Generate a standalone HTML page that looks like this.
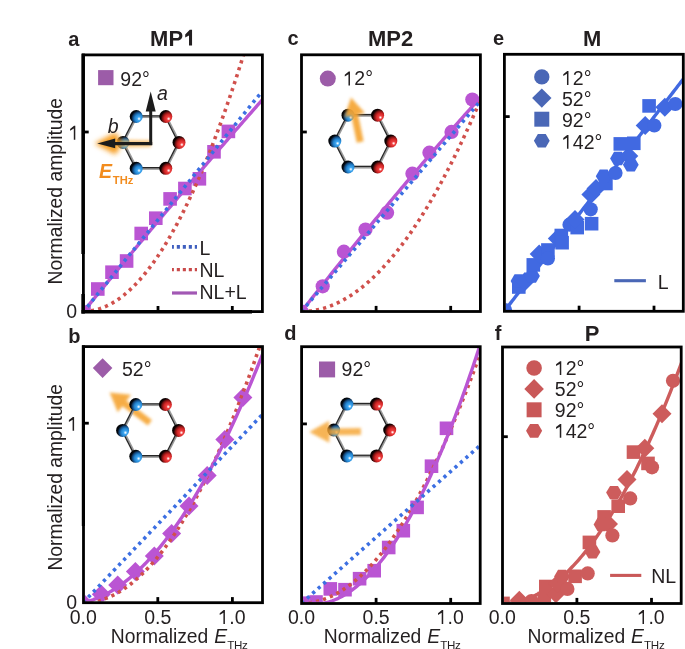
<!DOCTYPE html>
<html><head><meta charset="utf-8"><style>html,body{margin:0;padding:0;background:#fff;}svg{display:block;will-change:transform;}text{font-family:"Liberation Sans",sans-serif;}</style></head><body>
<svg width="685" height="649" viewBox="0 0 685 649" font-family="Liberation Sans, sans-serif">
<defs>
<radialGradient id="gB" cx="0.7" cy="0.62" r="0.8" fx="0.72" fy="0.68"><stop offset="0" stop-color="#ffffff"/><stop offset="0.07" stop-color="#c4e6ff"/><stop offset="0.17" stop-color="#40a8f2"/><stop offset="0.4" stop-color="#2284d0"/><stop offset="0.58" stop-color="#14497e"/><stop offset="0.74" stop-color="#02070e"/><stop offset="1" stop-color="#000"/></radialGradient>
<radialGradient id="gR" cx="0.7" cy="0.62" r="0.8" fx="0.72" fy="0.68"><stop offset="0" stop-color="#ffffff"/><stop offset="0.07" stop-color="#ffc4c4"/><stop offset="0.17" stop-color="#ee4040"/><stop offset="0.4" stop-color="#d02424"/><stop offset="0.58" stop-color="#7a1212"/><stop offset="0.74" stop-color="#0e0000"/><stop offset="1" stop-color="#000"/></radialGradient>
<filter id="blur2" x="-50%" y="-50%" width="200%" height="200%"><feGaussianBlur stdDeviation="1.6"/></filter>
<filter id="blur3" x="-50%" y="-50%" width="200%" height="200%"><feGaussianBlur stdDeviation="2.6"/></filter>
<clipPath id="clipa"><rect x="84.70" y="56.20" width="176.40" height="254.10"/></clipPath>
<clipPath id="clipb"><rect x="84.80" y="347.90" width="176.40" height="253.50"/></clipPath>
<clipPath id="clipc"><rect x="302.80" y="56.10" width="176.30" height="254.10"/></clipPath>
<clipPath id="clipd"><rect x="302.90" y="348.00" width="176.00" height="254.20"/></clipPath>
<clipPath id="clipe"><rect x="505.70" y="55.60" width="176.30" height="254.40"/></clipPath>
<clipPath id="clipf"><rect x="503.80" y="348.30" width="176.10" height="253.90"/></clipPath>
</defs>
<rect width="685" height="649" fill="#fff"/>
<g clip-path="url(#clipa)">
<rect x="77.20" y="305.20" width="13.60" height="13.60" fill="#ba55d3"/>
<rect x="91.00" y="282.20" width="13.60" height="13.60" fill="#ba55d3"/>
<rect x="105.20" y="265.40" width="13.60" height="13.60" fill="#ba55d3"/>
<rect x="119.80" y="254.20" width="13.60" height="13.60" fill="#ba55d3"/>
<rect x="134.40" y="226.70" width="13.60" height="13.60" fill="#ba55d3"/>
<rect x="149.00" y="211.40" width="13.60" height="13.60" fill="#ba55d3"/>
<rect x="163.30" y="192.10" width="13.60" height="13.60" fill="#ba55d3"/>
<rect x="178.10" y="181.70" width="13.60" height="13.60" fill="#ba55d3"/>
<rect x="192.60" y="172.00" width="13.60" height="13.60" fill="#ba55d3"/>
<rect x="207.20" y="145.00" width="13.60" height="13.60" fill="#ba55d3"/>
<rect x="221.60" y="124.60" width="13.60" height="13.60" fill="#ba55d3"/>
<path d="M83.70,311.30 L85.31,311.27 L86.92,311.20 L88.53,311.07 L90.14,310.88 L91.75,310.65 L93.36,310.36 L94.97,310.03 L96.58,309.64 L98.19,309.19 L99.80,308.70 L101.41,308.15 L103.02,307.55 L104.63,306.90 L106.24,306.20 L107.85,305.45 L109.46,304.64 L111.07,303.78 L112.68,302.87 L114.29,301.91 L115.90,300.90 L117.51,299.83 L119.12,298.71 L120.73,297.54 L122.34,296.32 L123.95,295.04 L125.56,293.72 L127.17,292.34 L128.78,290.91 L130.39,289.43 L132.00,287.89 L133.60,286.31 L135.21,284.67 L136.82,282.98 L138.43,281.23 L140.04,279.44 L141.65,277.59 L143.26,275.69 L144.87,273.74 L146.48,271.74 L148.09,269.69 L149.70,267.58 L151.31,265.42 L152.92,263.21 L154.53,260.95 L156.14,258.63 L157.75,256.27 L159.36,253.85 L160.97,251.38 L162.58,248.85 L164.19,246.28 L165.80,243.65 L167.41,240.97 L169.02,238.24 L170.63,235.46 L172.24,232.62 L173.85,229.74 L175.46,226.80 L177.07,223.81 L178.68,220.76 L180.29,217.67 L181.90,214.52 L183.51,211.32 L185.12,208.07 L186.73,204.77 L188.34,201.41 L189.95,198.00 L191.56,194.55 L193.17,191.03 L194.78,187.47 L196.39,183.86 L198.00,180.19 L199.61,176.47 L201.22,172.70 L202.83,168.87 L204.44,165.00 L206.05,161.07 L207.66,157.09 L209.27,153.06 L210.88,148.98 L212.49,144.84 L214.10,140.66 L215.71,136.42 L217.32,132.12 L218.93,127.78 L220.54,123.39 L222.15,118.94 L223.76,114.44 L225.37,109.89 L226.98,105.28 L228.58,100.63 L230.19,95.92 L231.80,91.16 L233.41,86.35 L235.02,81.48 L236.63,76.57 L238.24,71.60 L239.85,66.58 L241.46,61.51 L243.07,56.39 L244.68,51.21 L246.29,45.98 L247.90,40.70 L249.51,35.37 L251.12,29.99 L252.73,24.55 L254.34,19.06 L255.95,13.52 L257.56,7.93 L259.17,2.29 L260.78,-3.41 L262.39,-9.16 L264.00,-14.96 L265.61,-20.81 L267.22,-26.71 L268.83,-32.67 L270.44,-38.68 L272.05,-44.74 L273.66,-50.85 L275.27,-57.01 L276.88,-63.23" fill="none" stroke="#d0504c" stroke-width="3.6" stroke-dasharray="3.2 4.1" stroke-dashoffset="0"/>
<path d="M83.70,311.30 L85.31,309.32 L86.92,307.34 L88.53,305.36 L90.14,303.39 L91.75,301.41 L93.36,299.44 L94.97,297.46 L96.58,295.49 L98.19,293.52 L99.80,291.55 L101.41,289.59 L103.02,287.62 L104.63,285.66 L106.24,283.69 L107.85,281.73 L109.46,279.77 L111.07,277.81 L112.68,275.86 L114.29,273.90 L115.90,271.94 L117.51,269.99 L119.12,268.04 L120.73,266.09 L122.34,264.14 L123.95,262.19 L125.56,260.24 L127.17,258.30 L128.78,256.35 L130.39,254.41 L132.00,252.47 L133.60,250.53 L135.21,248.59 L136.82,246.65 L138.43,244.72 L140.04,242.78 L141.65,240.85 L143.26,238.92 L144.87,236.98 L146.48,235.05 L148.09,233.13 L149.70,231.20 L151.31,229.27 L152.92,227.35 L154.53,225.43 L156.14,223.51 L157.75,221.59 L159.36,219.67 L160.97,217.75 L162.58,215.83 L164.19,213.92 L165.80,212.01 L167.41,210.10 L169.02,208.18 L170.63,206.28 L172.24,204.37 L173.85,202.46 L175.46,200.56 L177.07,198.65 L178.68,196.75 L180.29,194.85 L181.90,192.95 L183.51,191.05 L185.12,189.15 L186.73,187.26 L188.34,185.36 L189.95,183.47 L191.56,181.58 L193.17,179.69 L194.78,177.80 L196.39,175.91 L198.00,174.02 L199.61,172.14 L201.22,170.26 L202.83,168.37 L204.44,166.49 L206.05,164.61 L207.66,162.74 L209.27,160.86 L210.88,158.98 L212.49,157.11 L214.10,155.24 L215.71,153.36 L217.32,151.49 L218.93,149.63 L220.54,147.76 L222.15,145.89 L223.76,144.03 L225.37,142.16 L226.98,140.30 L228.58,138.44 L230.19,136.58 L231.80,134.72 L233.41,132.87 L235.02,131.01 L236.63,129.16 L238.24,127.30 L239.85,125.45 L241.46,123.60 L243.07,121.75 L244.68,119.91 L246.29,118.06 L247.90,116.22 L249.51,114.37 L251.12,112.53 L252.73,110.69 L254.34,108.85 L255.95,107.01 L257.56,105.18 L259.17,103.34 L260.78,101.51 L262.39,99.68 L264.00,97.85 L265.61,96.02 L267.22,94.19 L268.83,92.36 L270.44,90.53 L272.05,88.71 L273.66,86.89 L275.27,85.07 L276.88,83.24" fill="none" stroke="#ba55d3" stroke-width="3.4" stroke-linejoin="round"/>
<path d="M83.70,311.30 L85.31,309.32 L86.92,307.33 L88.53,305.35 L90.14,303.36 L91.75,301.38 L93.36,299.39 L94.97,297.41 L96.58,295.43 L98.19,293.44 L99.80,291.46 L101.41,289.47 L103.02,287.49 L104.63,285.51 L106.24,283.52 L107.85,281.54 L109.46,279.55 L111.07,277.57 L112.68,275.58 L114.29,273.60 L115.90,271.62 L117.51,269.63 L119.12,267.65 L120.73,265.66 L122.34,263.68 L123.95,261.70 L125.56,259.71 L127.17,257.73 L128.78,255.74 L130.39,253.76 L132.00,251.77 L133.60,249.79 L135.21,247.81 L136.82,245.82 L138.43,243.84 L140.04,241.85 L141.65,239.87 L143.26,237.89 L144.87,235.90 L146.48,233.92 L148.09,231.93 L149.70,229.95 L151.31,227.96 L152.92,225.98 L154.53,224.00 L156.14,222.01 L157.75,220.03 L159.36,218.04 L160.97,216.06 L162.58,214.08 L164.19,212.09 L165.80,210.11 L167.41,208.12 L169.02,206.14 L170.63,204.15 L172.24,202.17 L173.85,200.19 L175.46,198.20 L177.07,196.22 L178.68,194.23 L180.29,192.25 L181.90,190.27 L183.51,188.28 L185.12,186.30 L186.73,184.31 L188.34,182.33 L189.95,180.34 L191.56,178.36 L193.17,176.38 L194.78,174.39 L196.39,172.41 L198.00,170.42 L199.61,168.44 L201.22,166.45 L202.83,164.47 L204.44,162.49 L206.05,160.50 L207.66,158.52 L209.27,156.53 L210.88,154.55 L212.49,152.57 L214.10,150.58 L215.71,148.60 L217.32,146.61 L218.93,144.63 L220.54,142.64 L222.15,140.66 L223.76,138.68 L225.37,136.69 L226.98,134.71 L228.58,132.72 L230.19,130.74 L231.80,128.76 L233.41,126.77 L235.02,124.79 L236.63,122.80 L238.24,120.82 L239.85,118.83 L241.46,116.85 L243.07,114.87 L244.68,112.88 L246.29,110.90 L247.90,108.91 L249.51,106.93 L251.12,104.95 L252.73,102.96 L254.34,100.98 L255.95,98.99 L257.56,97.01 L259.17,95.02 L260.78,93.04 L262.39,91.06 L264.00,89.07 L265.61,87.09 L267.22,85.10 L268.83,83.12 L270.44,81.14 L272.05,79.15 L273.66,77.17 L275.27,75.18 L276.88,73.20" fill="none" stroke="#3c6fe2" stroke-width="3.6" stroke-dasharray="3.2 4.1" stroke-dashoffset="1.45"/>
</g>
<g clip-path="url(#clipb)">
<path d="M74.50,603.50 L84.00,594.00 L93.50,603.50 L84.00,613.00Z" fill="#ba55d3"/>
<path d="M91.80,594.30 L101.30,584.80 L110.80,594.30 L101.30,603.80Z" fill="#ba55d3"/>
<path d="M108.20,585.00 L117.70,575.50 L127.20,585.00 L117.70,594.50Z" fill="#ba55d3"/>
<path d="M125.90,571.50 L135.40,562.00 L144.90,571.50 L135.40,581.00Z" fill="#ba55d3"/>
<path d="M144.80,556.10 L154.30,546.60 L163.80,556.10 L154.30,565.60Z" fill="#ba55d3"/>
<path d="M162.10,533.60 L171.60,524.10 L181.10,533.60 L171.60,543.10Z" fill="#ba55d3"/>
<path d="M179.50,506.00 L189.00,496.50 L198.50,506.00 L189.00,515.50Z" fill="#ba55d3"/>
<path d="M197.70,475.40 L207.20,465.90 L216.70,475.40 L207.20,484.90Z" fill="#ba55d3"/>
<path d="M215.30,439.50 L224.80,430.00 L234.30,439.50 L224.80,449.00Z" fill="#ba55d3"/>
<path d="M233.40,397.60 L242.90,388.10 L252.40,397.60 L242.90,407.10Z" fill="#ba55d3"/>
<path d="M83.20,602.60 L84.82,602.58 L86.43,602.51 L88.05,602.41 L89.67,602.26 L91.28,602.06 L92.90,601.83 L94.51,601.55 L96.13,601.23 L97.75,600.86 L99.36,600.45 L100.98,600.00 L102.60,599.51 L104.21,598.97 L105.83,598.39 L107.44,597.77 L109.06,597.10 L110.68,596.39 L112.29,595.64 L113.91,594.85 L115.53,594.01 L117.14,593.13 L118.76,592.21 L120.38,591.24 L121.99,590.23 L123.61,589.18 L125.22,588.08 L126.84,586.94 L128.46,585.76 L130.07,584.54 L131.69,583.27 L133.31,581.96 L134.92,580.61 L136.54,579.21 L138.16,577.77 L139.77,576.29 L141.39,574.77 L143.00,573.20 L144.62,571.59 L146.24,569.94 L147.85,568.24 L149.47,566.50 L151.09,564.72 L152.70,562.89 L154.32,561.02 L155.94,559.11 L157.55,557.16 L159.17,555.16 L160.78,553.12 L162.40,551.04 L164.02,548.91 L165.63,546.74 L167.25,544.53 L168.87,542.27 L170.48,539.98 L172.10,537.64 L173.71,535.25 L175.33,532.83 L176.95,530.36 L178.56,527.84 L180.18,525.29 L181.80,522.69 L183.41,520.05 L185.03,517.36 L186.65,514.64 L188.26,511.87 L189.88,509.05 L191.49,506.20 L193.11,503.30 L194.73,500.35 L196.34,497.37 L197.96,494.34 L199.58,491.27 L201.19,488.16 L202.81,485.00 L204.43,481.80 L206.04,478.56 L207.66,475.27 L209.27,471.94 L210.89,468.57 L212.51,465.16 L214.12,461.70 L215.74,458.20 L217.36,454.65 L218.97,451.07 L220.59,447.44 L222.20,443.77 L223.82,440.05 L225.44,436.29 L227.05,432.49 L228.67,428.65 L230.29,424.76 L231.90,420.83 L233.52,416.86 L235.14,412.84 L236.75,408.78 L238.37,404.68 L239.98,400.54 L241.60,396.35 L243.22,392.12 L244.83,387.84 L246.45,383.53 L248.07,379.17 L249.68,374.76 L251.30,370.32 L252.91,365.83 L254.53,361.30 L256.15,356.72 L257.76,352.11 L259.38,347.45 L261.00,342.74 L262.61,338.00 L264.23,333.21 L265.85,328.38 L267.46,323.50 L269.08,318.58 L270.69,313.62 L272.31,308.62 L273.93,303.57 L275.54,298.48 L277.16,293.35" fill="none" stroke="#d0504c" stroke-width="3.6" stroke-dasharray="3.2 4.1" stroke-dashoffset="0"/>
<path d="M83.20,602.60 L84.82,602.21 L86.43,601.79 L88.05,601.34 L89.67,600.85 L91.28,600.33 L92.90,599.78 L94.51,599.19 L96.13,598.57 L97.75,597.91 L99.36,597.22 L100.98,596.50 L102.60,595.74 L104.21,594.95 L105.83,594.13 L107.44,593.27 L109.06,592.38 L110.68,591.45 L112.29,590.50 L113.91,589.50 L115.53,588.48 L117.14,587.42 L118.76,586.32 L120.38,585.20 L121.99,584.04 L123.61,582.84 L125.22,581.61 L126.84,580.35 L128.46,579.06 L130.07,577.73 L131.69,576.36 L133.31,574.97 L134.92,573.54 L136.54,572.07 L138.16,570.57 L139.77,569.04 L141.39,567.48 L143.00,565.88 L144.62,564.25 L146.24,562.58 L147.85,560.88 L149.47,559.15 L151.09,557.38 L152.70,555.58 L154.32,553.74 L155.94,551.87 L157.55,549.97 L159.17,548.04 L160.78,546.07 L162.40,544.06 L164.02,542.03 L165.63,539.96 L167.25,537.85 L168.87,535.72 L170.48,533.54 L172.10,531.34 L173.71,529.10 L175.33,526.83 L176.95,524.52 L178.56,522.18 L180.18,519.81 L181.80,517.40 L183.41,514.96 L185.03,512.48 L186.65,509.98 L188.26,507.43 L189.88,504.86 L191.49,502.25 L193.11,499.60 L194.73,496.93 L196.34,494.22 L197.96,491.47 L199.58,488.70 L201.19,485.88 L202.81,483.04 L204.43,480.16 L206.04,477.25 L207.66,474.30 L209.27,471.32 L210.89,468.31 L212.51,465.26 L214.12,462.18 L215.74,459.06 L217.36,455.91 L218.97,452.73 L220.59,449.52 L222.20,446.27 L223.82,442.98 L225.44,439.67 L227.05,436.32 L228.67,432.93 L230.29,429.51 L231.90,426.06 L233.52,422.58 L235.14,419.06 L236.75,415.51 L238.37,411.92 L239.98,408.30 L241.60,404.65 L243.22,400.96 L244.83,397.24 L246.45,393.48 L248.07,389.69 L249.68,385.87 L251.30,382.02 L252.91,378.13 L254.53,374.20 L256.15,370.25 L257.76,366.25 L259.38,362.23 L261.00,358.17 L262.61,354.08 L264.23,349.96 L265.85,345.80 L267.46,341.60 L269.08,337.38 L270.69,333.12 L272.31,328.82 L273.93,324.50 L275.54,320.13 L277.16,315.74" fill="none" stroke="#ba55d3" stroke-width="3.4" stroke-linejoin="round"/>
<path d="M83.20,602.60 L84.82,600.90 L86.43,599.21 L88.05,597.51 L89.67,595.81 L91.28,594.12 L92.90,592.42 L94.51,590.72 L96.13,589.03 L97.75,587.33 L99.36,585.63 L100.98,583.94 L102.60,582.24 L104.21,580.54 L105.83,578.85 L107.44,577.15 L109.06,575.45 L110.68,573.76 L112.29,572.06 L113.91,570.36 L115.53,568.67 L117.14,566.97 L118.76,565.27 L120.38,563.58 L121.99,561.88 L123.61,560.18 L125.22,558.49 L126.84,556.79 L128.46,555.09 L130.07,553.40 L131.69,551.70 L133.31,550.00 L134.92,548.31 L136.54,546.61 L138.16,544.91 L139.77,543.22 L141.39,541.52 L143.00,539.82 L144.62,538.13 L146.24,536.43 L147.85,534.73 L149.47,533.04 L151.09,531.34 L152.70,529.64 L154.32,527.95 L155.94,526.25 L157.55,524.55 L159.17,522.86 L160.78,521.16 L162.40,519.46 L164.02,517.77 L165.63,516.07 L167.25,514.37 L168.87,512.68 L170.48,510.98 L172.10,509.28 L173.71,507.59 L175.33,505.89 L176.95,504.19 L178.56,502.50 L180.18,500.80 L181.80,499.10 L183.41,497.41 L185.03,495.71 L186.65,494.01 L188.26,492.32 L189.88,490.62 L191.49,488.92 L193.11,487.23 L194.73,485.53 L196.34,483.83 L197.96,482.14 L199.58,480.44 L201.19,478.74 L202.81,477.05 L204.43,475.35 L206.04,473.65 L207.66,471.96 L209.27,470.26 L210.89,468.56 L212.51,466.87 L214.12,465.17 L215.74,463.47 L217.36,461.78 L218.97,460.08 L220.59,458.38 L222.20,456.69 L223.82,454.99 L225.44,453.29 L227.05,451.60 L228.67,449.90 L230.29,448.20 L231.90,446.51 L233.52,444.81 L235.14,443.11 L236.75,441.42 L238.37,439.72 L239.98,438.02 L241.60,436.33 L243.22,434.63 L244.83,432.93 L246.45,431.24 L248.07,429.54 L249.68,427.84 L251.30,426.15 L252.91,424.45 L254.53,422.75 L256.15,421.06 L257.76,419.36 L259.38,417.66 L261.00,415.97 L262.61,414.27 L264.23,412.57 L265.85,410.88 L267.46,409.18 L269.08,407.48 L270.69,405.79 L272.31,404.09 L273.93,402.39 L275.54,400.70 L277.16,399.00" fill="none" stroke="#3c6fe2" stroke-width="3.6" stroke-dasharray="3.2 4.1" stroke-dashoffset="0"/>
</g>
<g clip-path="url(#clipc)">
<circle cx="301.50" cy="311.50" r="7.10" fill="#ba55d3"/>
<circle cx="322.70" cy="286.30" r="7.10" fill="#ba55d3"/>
<circle cx="343.90" cy="251.70" r="7.10" fill="#ba55d3"/>
<circle cx="365.50" cy="229.50" r="7.10" fill="#ba55d3"/>
<circle cx="387.10" cy="212.70" r="7.10" fill="#ba55d3"/>
<circle cx="412.40" cy="173.70" r="7.10" fill="#ba55d3"/>
<circle cx="429.40" cy="152.70" r="7.10" fill="#ba55d3"/>
<circle cx="451.50" cy="131.90" r="7.10" fill="#ba55d3"/>
<circle cx="472.30" cy="99.50" r="7.10" fill="#ba55d3"/>
<path d="M301.50,311.50 L303.12,311.48 L304.73,311.43 L306.35,311.34 L307.97,311.22 L309.58,311.07 L311.20,310.88 L312.81,310.65 L314.43,310.39 L316.05,310.10 L317.66,309.77 L319.28,309.41 L320.90,309.01 L322.51,308.58 L324.13,308.11 L325.75,307.61 L327.36,307.08 L328.98,306.51 L330.59,305.90 L332.21,305.26 L333.83,304.59 L335.44,303.88 L337.06,303.14 L338.68,302.36 L340.29,301.55 L341.91,300.70 L343.52,299.82 L345.14,298.91 L346.76,297.96 L348.37,296.97 L349.99,295.95 L351.61,294.90 L353.22,293.81 L354.84,292.69 L356.46,291.53 L358.07,290.34 L359.69,289.11 L361.30,287.85 L362.92,286.56 L364.54,285.23 L366.15,283.86 L367.77,282.46 L369.39,281.03 L371.00,279.56 L372.62,278.06 L374.24,276.52 L375.85,274.95 L377.47,273.34 L379.08,271.70 L380.70,270.02 L382.32,268.31 L383.93,266.57 L385.55,264.79 L387.17,262.98 L388.78,261.13 L390.40,259.24 L392.01,257.33 L393.63,255.38 L395.25,253.39 L396.86,251.37 L398.48,249.31 L400.10,247.22 L401.71,245.10 L403.33,242.94 L404.95,240.74 L406.56,238.52 L408.18,236.25 L409.79,233.96 L411.41,231.62 L413.03,229.26 L414.64,226.86 L416.26,224.42 L417.88,221.95 L419.49,219.44 L421.11,216.91 L422.73,214.33 L424.34,211.72 L425.96,209.08 L427.57,206.40 L429.19,203.69 L430.81,200.94 L432.42,198.16 L434.04,195.35 L435.66,192.50 L437.27,189.61 L438.89,186.69 L440.50,183.74 L442.12,180.75 L443.74,177.73 L445.35,174.67 L446.97,171.58 L448.59,168.45 L450.20,165.29 L451.82,162.09 L453.44,158.86 L455.05,155.60 L456.67,152.30 L458.28,148.97 L459.90,145.60 L461.52,142.19 L463.13,138.76 L464.75,135.28 L466.37,131.78 L467.98,128.24 L469.60,124.66 L471.21,121.05 L472.83,117.41 L474.45,113.73 L476.06,110.01 L477.68,106.26 L479.30,102.48 L480.91,98.66 L482.53,94.81 L484.15,90.92 L485.76,87.00 L487.38,83.05 L488.99,79.06 L490.61,75.03 L492.23,70.97 L493.84,66.88 L495.46,62.75" fill="none" stroke="#d0504c" stroke-width="3.6" stroke-dasharray="3.2 4.1" stroke-dashoffset="0"/>
<path d="M301.50,311.50 L303.12,309.43 L304.73,307.37 L306.35,305.31 L307.97,303.25 L309.58,301.19 L311.20,299.14 L312.81,297.09 L314.43,295.04 L316.05,292.99 L317.66,290.95 L319.28,288.91 L320.90,286.87 L322.51,284.83 L324.13,282.80 L325.75,280.76 L327.36,278.73 L328.98,276.71 L330.59,274.68 L332.21,272.66 L333.83,270.64 L335.44,268.62 L337.06,266.61 L338.68,264.59 L340.29,262.58 L341.91,260.57 L343.52,258.57 L345.14,256.56 L346.76,254.56 L348.37,252.56 L349.99,250.57 L351.61,248.57 L353.22,246.58 L354.84,244.59 L356.46,242.61 L358.07,240.62 L359.69,238.64 L361.30,236.66 L362.92,234.68 L364.54,232.71 L366.15,230.74 L367.77,228.77 L369.39,226.80 L371.00,224.84 L372.62,222.87 L374.24,220.91 L375.85,218.95 L377.47,217.00 L379.08,215.05 L380.70,213.10 L382.32,211.15 L383.93,209.20 L385.55,207.26 L387.17,205.32 L388.78,203.38 L390.40,201.44 L392.01,199.51 L393.63,197.58 L395.25,195.65 L396.86,193.72 L398.48,191.80 L400.10,189.88 L401.71,187.96 L403.33,186.04 L404.95,184.12 L406.56,182.21 L408.18,180.30 L409.79,178.40 L411.41,176.49 L413.03,174.59 L414.64,172.69 L416.26,170.79 L417.88,168.89 L419.49,167.00 L421.11,165.11 L422.73,163.22 L424.34,161.34 L425.96,159.45 L427.57,157.57 L429.19,155.69 L430.81,153.82 L432.42,151.94 L434.04,150.07 L435.66,148.20 L437.27,146.34 L438.89,144.47 L440.50,142.61 L442.12,140.75 L443.74,138.89 L445.35,137.04 L446.97,135.19 L448.59,133.34 L450.20,131.49 L451.82,129.65 L453.44,127.80 L455.05,125.96 L456.67,124.13 L458.28,122.29 L459.90,120.46 L461.52,118.63 L463.13,116.80 L464.75,114.97 L466.37,113.15 L467.98,111.33 L469.60,109.51 L471.21,107.69 L472.83,105.88 L474.45,104.07 L476.06,102.26 L477.68,100.45 L479.30,98.65 L480.91,96.85 L482.53,95.05 L484.15,93.25 L485.76,91.46 L487.38,89.66 L488.99,87.88 L490.61,86.09 L492.23,84.30 L493.84,82.52 L495.46,80.74" fill="none" stroke="#ba55d3" stroke-width="3.4" stroke-linejoin="round"/>
<path d="M301.50,311.50 L303.12,309.60 L304.73,307.70 L306.35,305.79 L307.97,303.89 L309.58,301.99 L311.20,300.09 L312.81,298.19 L314.43,296.29 L316.05,294.38 L317.66,292.48 L319.28,290.58 L320.90,288.68 L322.51,286.78 L324.13,284.87 L325.75,282.97 L327.36,281.07 L328.98,279.17 L330.59,277.27 L332.21,275.37 L333.83,273.46 L335.44,271.56 L337.06,269.66 L338.68,267.76 L340.29,265.86 L341.91,263.95 L343.52,262.05 L345.14,260.15 L346.76,258.25 L348.37,256.35 L349.99,254.45 L351.61,252.54 L353.22,250.64 L354.84,248.74 L356.46,246.84 L358.07,244.94 L359.69,243.04 L361.30,241.13 L362.92,239.23 L364.54,237.33 L366.15,235.43 L367.77,233.53 L369.39,231.62 L371.00,229.72 L372.62,227.82 L374.24,225.92 L375.85,224.02 L377.47,222.12 L379.08,220.21 L380.70,218.31 L382.32,216.41 L383.93,214.51 L385.55,212.61 L387.17,210.70 L388.78,208.80 L390.40,206.90 L392.01,205.00 L393.63,203.10 L395.25,201.20 L396.86,199.29 L398.48,197.39 L400.10,195.49 L401.71,193.59 L403.33,191.69 L404.95,189.78 L406.56,187.88 L408.18,185.98 L409.79,184.08 L411.41,182.18 L413.03,180.28 L414.64,178.37 L416.26,176.47 L417.88,174.57 L419.49,172.67 L421.11,170.77 L422.73,168.86 L424.34,166.96 L425.96,165.06 L427.57,163.16 L429.19,161.26 L430.81,159.36 L432.42,157.45 L434.04,155.55 L435.66,153.65 L437.27,151.75 L438.89,149.85 L440.50,147.94 L442.12,146.04 L443.74,144.14 L445.35,142.24 L446.97,140.34 L448.59,138.44 L450.20,136.53 L451.82,134.63 L453.44,132.73 L455.05,130.83 L456.67,128.93 L458.28,127.03 L459.90,125.12 L461.52,123.22 L463.13,121.32 L464.75,119.42 L466.37,117.52 L467.98,115.61 L469.60,113.71 L471.21,111.81 L472.83,109.91 L474.45,108.01 L476.06,106.11 L477.68,104.20 L479.30,102.30 L480.91,100.40 L482.53,98.50 L484.15,96.60 L485.76,94.69 L487.38,92.79 L488.99,90.89 L490.61,88.99 L492.23,87.09 L493.84,85.19 L495.46,83.28" fill="none" stroke="#3c6fe2" stroke-width="3.6" stroke-dasharray="3.2 4.1" stroke-dashoffset="0"/>
</g>
<g clip-path="url(#clipd)">
<rect x="296.00" y="596.40" width="13.60" height="13.60" fill="#ba55d3"/>
<rect x="309.20" y="595.20" width="13.60" height="13.60" fill="#ba55d3"/>
<rect x="323.50" y="582.10" width="13.60" height="13.60" fill="#ba55d3"/>
<rect x="338.20" y="582.90" width="13.60" height="13.60" fill="#ba55d3"/>
<rect x="352.80" y="571.90" width="13.60" height="13.60" fill="#ba55d3"/>
<rect x="367.40" y="563.90" width="13.60" height="13.60" fill="#ba55d3"/>
<rect x="381.90" y="540.70" width="13.60" height="13.60" fill="#ba55d3"/>
<rect x="396.50" y="523.90" width="13.60" height="13.60" fill="#ba55d3"/>
<rect x="410.30" y="500.60" width="13.60" height="13.60" fill="#ba55d3"/>
<rect x="424.70" y="459.40" width="13.60" height="13.60" fill="#ba55d3"/>
<rect x="439.70" y="421.50" width="13.60" height="13.60" fill="#ba55d3"/>
<path d="M301.50,603.20 L303.12,603.18 L304.73,603.12 L306.35,603.02 L307.97,602.87 L309.58,602.69 L311.20,602.47 L312.81,602.20 L314.43,601.89 L316.05,601.55 L317.66,601.16 L319.28,600.73 L320.90,600.26 L322.51,599.75 L324.13,599.20 L325.75,598.61 L327.36,597.97 L328.98,597.30 L330.59,596.59 L332.21,595.83 L333.83,595.04 L335.44,594.20 L337.06,593.32 L338.68,592.40 L340.29,591.44 L341.91,590.44 L343.52,589.40 L345.14,588.32 L346.76,587.20 L348.37,586.03 L349.99,584.83 L351.61,583.58 L353.22,582.30 L354.84,580.97 L356.46,579.60 L358.07,578.20 L359.69,576.75 L361.30,575.26 L362.92,573.73 L364.54,572.15 L366.15,570.54 L367.77,568.89 L369.39,567.19 L371.00,565.46 L372.62,563.68 L374.24,561.87 L375.85,560.01 L377.47,558.11 L379.08,556.17 L380.70,554.19 L382.32,552.17 L383.93,550.11 L385.55,548.01 L387.17,545.86 L388.78,543.68 L390.40,541.46 L392.01,539.19 L393.63,536.88 L395.25,534.54 L396.86,532.15 L398.48,529.72 L400.10,527.25 L401.71,524.74 L403.33,522.19 L404.95,519.59 L406.56,516.96 L408.18,514.29 L409.79,511.57 L411.41,508.82 L413.03,506.02 L414.64,503.18 L416.26,500.31 L417.88,497.39 L419.49,494.43 L421.11,491.43 L422.73,488.38 L424.34,485.30 L425.96,482.18 L427.57,479.02 L429.19,475.81 L430.81,472.57 L432.42,469.28 L434.04,465.95 L435.66,462.58 L437.27,459.18 L438.89,455.73 L440.50,452.24 L442.12,448.70 L443.74,445.13 L445.35,441.52 L446.97,437.87 L448.59,434.17 L450.20,430.44 L451.82,426.66 L453.44,422.84 L455.05,418.99 L456.67,415.09 L458.28,411.15 L459.90,407.17 L461.52,403.15 L463.13,399.08 L464.75,394.98 L466.37,390.84 L467.98,386.65 L469.60,382.43 L471.21,378.16 L472.83,373.86 L474.45,369.51 L476.06,365.12 L477.68,360.69 L479.30,356.22 L480.91,351.71 L482.53,347.16 L484.15,342.56 L485.76,337.93 L487.38,333.26 L488.99,328.54 L490.61,323.79 L492.23,318.99 L493.84,314.15 L495.46,309.27" fill="none" stroke="#d0504c" stroke-width="3.6" stroke-dasharray="3.2 4.1" stroke-dashoffset="0"/>
<path d="M301.50,603.20 L303.12,603.20 L304.73,603.20 L306.35,603.20 L307.97,603.20 L309.58,603.20 L311.20,603.20 L312.81,603.20 L314.43,603.20 L316.05,603.20 L317.66,603.20 L319.28,603.20 L320.90,603.20 L322.51,603.20 L324.13,603.14 L325.75,602.77 L327.36,602.36 L328.98,601.89 L330.59,601.38 L332.21,600.82 L333.83,600.21 L335.44,599.55 L337.06,598.85 L338.68,598.09 L340.29,597.29 L341.91,596.44 L343.52,595.54 L345.14,594.59 L346.76,593.60 L348.37,592.55 L349.99,591.46 L351.61,590.32 L353.22,589.13 L354.84,587.90 L356.46,586.61 L358.07,585.28 L359.69,583.89 L361.30,582.46 L362.92,580.98 L364.54,579.45 L366.15,577.88 L367.77,576.25 L369.39,574.58 L371.00,572.86 L372.62,571.09 L374.24,569.27 L375.85,567.41 L377.47,565.49 L379.08,563.53 L380.70,561.52 L382.32,559.46 L383.93,557.35 L385.55,555.20 L387.17,552.99 L388.78,550.74 L390.40,548.44 L392.01,546.09 L393.63,543.69 L395.25,541.24 L396.86,538.75 L398.48,536.20 L400.10,533.61 L401.71,530.97 L403.33,528.28 L404.95,525.55 L406.56,522.76 L408.18,519.93 L409.79,517.05 L411.41,514.12 L413.03,511.14 L414.64,508.11 L416.26,505.04 L417.88,501.91 L419.49,498.74 L421.11,495.52 L422.73,492.25 L424.34,488.94 L425.96,485.57 L427.57,482.16 L429.19,478.70 L430.81,475.19 L432.42,471.63 L434.04,468.02 L435.66,464.37 L437.27,460.66 L438.89,456.91 L440.50,453.11 L442.12,449.26 L443.74,445.36 L445.35,441.42 L446.97,437.42 L448.59,433.38 L450.20,429.29 L451.82,425.15 L453.44,420.97 L455.05,416.73 L456.67,412.45 L458.28,408.11 L459.90,403.73 L461.52,399.30 L463.13,394.83 L464.75,390.30 L466.37,385.73 L467.98,381.10 L469.60,376.43 L471.21,371.72 L472.83,366.95 L474.45,362.13 L476.06,357.27 L477.68,352.35 L479.30,347.39 L480.91,342.38 L482.53,337.33 L484.15,332.22 L485.76,327.07 L487.38,321.86 L488.99,316.61 L490.61,311.31 L492.23,305.97 L493.84,300.57 L495.46,295.12" fill="none" stroke="#ba55d3" stroke-width="3.4" stroke-linejoin="round"/>
<path d="M301.50,603.20 L303.12,601.77 L304.73,600.34 L306.35,598.92 L307.97,597.49 L309.58,596.06 L311.20,594.63 L312.81,593.21 L314.43,591.78 L316.05,590.35 L317.66,588.92 L319.28,587.50 L320.90,586.07 L322.51,584.64 L324.13,583.21 L325.75,581.78 L327.36,580.36 L328.98,578.93 L330.59,577.50 L332.21,576.07 L333.83,574.65 L335.44,573.22 L337.06,571.79 L338.68,570.36 L340.29,568.94 L341.91,567.51 L343.52,566.08 L345.14,564.65 L346.76,563.23 L348.37,561.80 L349.99,560.37 L351.61,558.94 L353.22,557.51 L354.84,556.09 L356.46,554.66 L358.07,553.23 L359.69,551.80 L361.30,550.38 L362.92,548.95 L364.54,547.52 L366.15,546.09 L367.77,544.67 L369.39,543.24 L371.00,541.81 L372.62,540.38 L374.24,538.95 L375.85,537.53 L377.47,536.10 L379.08,534.67 L380.70,533.24 L382.32,531.82 L383.93,530.39 L385.55,528.96 L387.17,527.53 L388.78,526.11 L390.40,524.68 L392.01,523.25 L393.63,521.82 L395.25,520.39 L396.86,518.97 L398.48,517.54 L400.10,516.11 L401.71,514.68 L403.33,513.26 L404.95,511.83 L406.56,510.40 L408.18,508.97 L409.79,507.55 L411.41,506.12 L413.03,504.69 L414.64,503.26 L416.26,501.83 L417.88,500.41 L419.49,498.98 L421.11,497.55 L422.73,496.12 L424.34,494.70 L425.96,493.27 L427.57,491.84 L429.19,490.41 L430.81,488.99 L432.42,487.56 L434.04,486.13 L435.66,484.70 L437.27,483.28 L438.89,481.85 L440.50,480.42 L442.12,478.99 L443.74,477.56 L445.35,476.14 L446.97,474.71 L448.59,473.28 L450.20,471.85 L451.82,470.43 L453.44,469.00 L455.05,467.57 L456.67,466.14 L458.28,464.72 L459.90,463.29 L461.52,461.86 L463.13,460.43 L464.75,459.00 L466.37,457.58 L467.98,456.15 L469.60,454.72 L471.21,453.29 L472.83,451.87 L474.45,450.44 L476.06,449.01 L477.68,447.58 L479.30,446.16 L480.91,444.73 L482.53,443.30 L484.15,441.87 L485.76,440.44 L487.38,439.02 L488.99,437.59 L490.61,436.16 L492.23,434.73 L493.84,433.31 L495.46,431.88" fill="none" stroke="#3c6fe2" stroke-width="3.6" stroke-dasharray="3.2 4.1" stroke-dashoffset="0"/>
</g>
<g clip-path="url(#clipe)">
<path d="M504.20,311.30 L505.82,309.19 L507.45,307.09 L509.07,304.98 L510.69,302.88 L512.31,300.77 L513.94,298.67 L515.56,296.56 L517.18,294.46 L518.81,292.35 L520.43,290.25 L522.05,288.14 L523.67,286.04 L525.30,283.93 L526.92,281.83 L528.54,279.72 L530.17,277.62 L531.79,275.51 L533.41,273.41 L535.03,271.30 L536.66,269.20 L538.28,267.09 L539.90,264.99 L541.53,262.88 L543.15,260.78 L544.77,258.67 L546.39,256.57 L548.02,254.46 L549.64,252.36 L551.26,250.25 L552.88,248.15 L554.51,246.04 L556.13,243.94 L557.75,241.83 L559.38,239.73 L561.00,237.62 L562.62,235.52 L564.24,233.41 L565.87,231.31 L567.49,229.20 L569.11,227.10 L570.74,224.99 L572.36,222.89 L573.98,220.78 L575.60,218.68 L577.23,216.57 L578.85,214.47 L580.47,212.36 L582.10,210.26 L583.72,208.15 L585.34,206.05 L586.96,203.94 L588.59,201.84 L590.21,199.73 L591.83,197.63 L593.46,195.52 L595.08,193.42 L596.70,191.31 L598.32,189.21 L599.95,187.10 L601.57,185.00 L603.19,182.89 L604.82,180.79 L606.44,178.68 L608.06,176.58 L609.68,174.47 L611.31,172.37 L612.93,170.26 L614.55,168.16 L616.18,166.05 L617.80,163.95 L619.42,161.84 L621.04,159.74 L622.67,157.63 L624.29,155.53 L625.91,153.42 L627.54,151.32 L629.16,149.21 L630.78,147.11 L632.40,145.00 L634.03,142.90 L635.65,140.79 L637.27,138.69 L638.90,136.58 L640.52,134.48 L642.14,132.37 L643.76,130.27 L645.39,128.16 L647.01,126.06 L648.63,123.95 L650.25,121.85 L651.88,119.74 L653.50,117.64 L655.12,115.53 L656.75,113.43 L658.37,111.32 L659.99,109.22 L661.61,107.11 L663.24,105.01 L664.86,102.90 L666.48,100.80 L668.11,98.69 L669.73,96.59 L671.35,94.48 L672.97,92.38 L674.60,90.27 L676.22,88.17 L677.84,86.06 L679.47,83.96 L681.09,81.85 L682.71,79.75 L684.33,77.64 L685.96,75.54 L687.58,73.43 L689.20,71.33 L690.83,69.22 L692.45,67.12 L694.07,65.01 L695.69,62.91 L697.32,60.80 L698.94,58.70" fill="none" stroke="#4169e1" stroke-width="3.4" stroke-linejoin="round"/>
<circle cx="505.00" cy="310.00" r="7.10" fill="#4169e1"/>
<rect x="512.00" y="280.20" width="13.60" height="13.60" fill="#4169e1"/>
<path d="M510.60,281.00 L514.55,274.30 L522.45,274.30 L526.40,281.00 L522.45,287.70 L514.55,287.70Z" fill="#4169e1"/>
<path d="M515.50,281.50 L525.00,272.00 L534.50,281.50 L525.00,291.00Z" fill="#4169e1"/>
<path d="M524.10,276.00 L528.05,269.30 L535.95,269.30 L539.90,276.00 L535.95,282.70 L528.05,282.70Z" fill="#4169e1"/>
<rect x="526.50" y="258.10" width="13.60" height="13.60" fill="#4169e1"/>
<path d="M529.70,254.00 L539.20,244.50 L548.70,254.00 L539.20,263.50Z" fill="#4169e1"/>
<rect x="541.10" y="243.20" width="13.60" height="13.60" fill="#4169e1"/>
<circle cx="547.90" cy="258.40" r="7.10" fill="#4169e1"/>
<path d="M547.80,238.50 L557.30,229.00 L566.80,238.50 L557.30,248.00Z" fill="#4169e1"/>
<rect x="554.50" y="228.70" width="13.60" height="13.60" fill="#4169e1"/>
<rect x="555.30" y="235.90" width="13.60" height="13.60" fill="#4169e1"/>
<circle cx="569.50" cy="224.70" r="7.10" fill="#4169e1"/>
<rect x="570.40" y="220.80" width="13.60" height="13.60" fill="#4169e1"/>
<path d="M565.50,219.50 L575.00,210.00 L584.50,219.50 L575.00,229.00Z" fill="#4169e1"/>
<rect x="584.80" y="216.90" width="13.60" height="13.60" fill="#4169e1"/>
<circle cx="590.70" cy="209.30" r="7.10" fill="#4169e1"/>
<path d="M581.40,194.50 L590.90,185.00 L600.40,194.50 L590.90,204.00Z" fill="#4169e1"/>
<path d="M586.50,188.50 L596.00,179.00 L605.50,188.50 L596.00,198.00Z" fill="#4169e1"/>
<rect x="599.10" y="176.70" width="13.60" height="13.60" fill="#4169e1"/>
<path d="M595.80,176.30 L599.75,169.60 L607.65,169.60 L611.60,176.30 L607.65,183.00 L599.75,183.00Z" fill="#4169e1"/>
<circle cx="615.50" cy="173.00" r="7.10" fill="#4169e1"/>
<path d="M610.10,158.50 L614.05,151.80 L621.95,151.80 L625.90,158.50 L621.95,165.20 L614.05,165.20Z" fill="#4169e1"/>
<path d="M619.30,156.00 L628.80,146.50 L638.30,156.00 L628.80,165.50Z" fill="#4169e1"/>
<path d="M622.90,164.80 L626.85,158.10 L634.75,158.10 L638.70,164.80 L634.75,171.50 L626.85,171.50Z" fill="#4169e1"/>
<rect x="613.50" y="137.10" width="13.60" height="13.60" fill="#4169e1"/>
<rect x="627.00" y="136.50" width="13.60" height="13.60" fill="#4169e1"/>
<path d="M635.70,125.50 L645.20,116.00 L654.70,125.50 L645.20,135.00Z" fill="#4169e1"/>
<circle cx="654.30" cy="125.50" r="7.10" fill="#4169e1"/>
<rect x="642.30" y="99.10" width="13.60" height="13.60" fill="#4169e1"/>
<path d="M655.30,107.20 L664.80,97.70 L674.30,107.20 L664.80,116.70Z" fill="#4169e1"/>
<circle cx="675.30" cy="104.00" r="7.10" fill="#4169e1"/>
</g>
<g clip-path="url(#clipf)">
<path d="M502.30,603.50 L503.92,603.48 L505.53,603.42 L507.15,603.32 L508.77,603.19 L510.38,603.01 L512.00,602.80 L513.61,602.54 L515.23,602.25 L516.85,601.91 L518.46,601.54 L520.08,601.13 L521.70,600.68 L523.31,600.19 L524.93,599.66 L526.54,599.10 L528.16,598.49 L529.78,597.84 L531.39,597.16 L533.01,596.43 L534.63,595.67 L536.24,594.87 L537.86,594.03 L539.48,593.14 L541.09,592.22 L542.71,591.27 L544.32,590.27 L545.94,589.23 L547.56,588.15 L549.17,587.04 L550.79,585.88 L552.41,584.69 L554.02,583.45 L555.64,582.18 L557.26,580.87 L558.87,579.52 L560.49,578.13 L562.10,576.70 L563.72,575.23 L565.34,573.73 L566.95,572.18 L568.57,570.59 L570.19,568.97 L571.80,567.30 L573.42,565.60 L575.03,563.86 L576.65,562.08 L578.27,560.26 L579.88,558.40 L581.50,556.50 L583.12,554.56 L584.73,552.58 L586.35,550.57 L587.97,548.51 L589.58,546.42 L591.20,544.28 L592.81,542.11 L594.43,539.90 L596.05,537.65 L597.66,535.36 L599.28,533.03 L600.90,530.66 L602.51,528.25 L604.13,525.80 L605.75,523.32 L607.36,520.79 L608.98,518.23 L610.59,515.62 L612.21,512.98 L613.83,510.30 L615.44,507.58 L617.06,504.82 L618.68,502.02 L620.29,499.18 L621.91,496.30 L623.52,493.39 L625.14,490.43 L626.76,487.43 L628.37,484.40 L629.99,481.33 L631.61,478.21 L633.22,475.06 L634.84,471.87 L636.46,468.64 L638.07,465.37 L639.69,462.06 L641.30,458.72 L642.92,455.33 L644.54,451.90 L646.15,448.44 L647.77,444.94 L649.39,441.39 L651.00,437.81 L652.62,434.19 L654.24,430.53 L655.85,426.83 L657.47,423.09 L659.08,419.31 L660.70,415.49 L662.32,411.64 L663.93,407.74 L665.55,403.81 L667.17,399.83 L668.78,395.82 L670.40,391.77 L672.01,387.68 L673.63,383.55 L675.25,379.38 L676.86,375.17 L678.48,370.92 L680.10,366.63 L681.71,362.31 L683.33,357.94 L684.95,353.54 L686.56,349.09 L688.18,344.61 L689.79,340.09 L691.41,335.53 L693.03,330.93 L694.64,326.29 L696.26,321.61" fill="none" stroke="#cd5c5c" stroke-width="3.4" stroke-linejoin="round"/>
<rect x="496.20" y="596.60" width="13.60" height="13.60" fill="#cd5c5c"/>
<path d="M509.80,600.30 L519.30,590.80 L528.80,600.30 L519.30,609.80Z" fill="#cd5c5c"/>
<circle cx="531.50" cy="601.00" r="7.10" fill="#cd5c5c"/>
<rect x="537.50" y="591.70" width="13.60" height="13.60" fill="#cd5c5c"/>
<rect x="539.00" y="579.70" width="13.60" height="13.60" fill="#cd5c5c"/>
<path d="M546.40,593.70 L555.90,584.20 L565.40,593.70 L555.90,603.20Z" fill="#cd5c5c"/>
<path d="M548.30,583.50 L557.80,574.00 L567.30,583.50 L557.80,593.00Z" fill="#cd5c5c"/>
<path d="M554.10,576.50 L558.05,569.80 L565.95,569.80 L569.90,576.50 L565.95,583.20 L558.05,583.20Z" fill="#cd5c5c"/>
<circle cx="567.40" cy="588.90" r="7.10" fill="#cd5c5c"/>
<rect x="568.30" y="569.50" width="13.60" height="13.60" fill="#cd5c5c"/>
<circle cx="587.70" cy="573.40" r="7.10" fill="#cd5c5c"/>
<rect x="582.60" y="535.60" width="13.60" height="13.60" fill="#cd5c5c"/>
<path d="M584.60,551.90 L588.55,545.20 L596.45,545.20 L600.40,551.90 L596.45,558.60 L588.55,558.60Z" fill="#cd5c5c"/>
<rect x="597.30" y="510.10" width="13.60" height="13.60" fill="#cd5c5c"/>
<path d="M593.60,524.50 L597.55,517.80 L605.45,517.80 L609.40,524.50 L605.45,531.20 L597.55,531.20Z" fill="#cd5c5c"/>
<path d="M599.00,524.00 L608.50,514.50 L618.00,524.00 L608.50,533.50Z" fill="#cd5c5c"/>
<circle cx="612.40" cy="535.40" r="7.10" fill="#cd5c5c"/>
<rect x="611.40" y="499.40" width="13.60" height="13.60" fill="#cd5c5c"/>
<path d="M606.10,492.60 L610.05,485.90 L617.95,485.90 L621.90,492.60 L617.95,499.30 L610.05,499.30Z" fill="#cd5c5c"/>
<circle cx="630.20" cy="498.40" r="7.10" fill="#cd5c5c"/>
<path d="M617.50,479.60 L627.00,470.10 L636.50,479.60 L627.00,489.10Z" fill="#cd5c5c"/>
<rect x="626.70" y="445.30" width="13.60" height="13.60" fill="#cd5c5c"/>
<path d="M635.30,448.20 L644.80,438.70 L654.30,448.20 L644.80,457.70Z" fill="#cd5c5c"/>
<rect x="641.20" y="456.60" width="13.60" height="13.60" fill="#cd5c5c"/>
<circle cx="652.00" cy="467.30" r="7.10" fill="#cd5c5c"/>
<path d="M652.50,413.80 L662.00,404.30 L671.50,413.80 L662.00,423.30Z" fill="#cd5c5c"/>
<circle cx="673.00" cy="380.80" r="7.10" fill="#cd5c5c"/>
</g>
<rect x="83.40" y="54.90" width="179.00" height="256.70" fill="none" stroke="#000" stroke-width="2.8"/>
<line x1="158.00" y1="311.60" x2="158.00" y2="306.00" stroke="#000" stroke-width="2.8"/>
<line x1="232.30" y1="311.60" x2="232.30" y2="306.00" stroke="#000" stroke-width="2.8"/>
<line x1="83.40" y1="132.00" x2="88.70" y2="132.00" stroke="#000" stroke-width="2.8"/>
<rect x="83.50" y="346.60" width="179.00" height="256.10" fill="none" stroke="#000" stroke-width="2.8"/>
<line x1="157.80" y1="602.70" x2="157.80" y2="597.10" stroke="#000" stroke-width="2.8"/>
<line x1="232.40" y1="602.70" x2="232.40" y2="597.10" stroke="#000" stroke-width="2.8"/>
<line x1="83.50" y1="423.20" x2="88.80" y2="423.20" stroke="#000" stroke-width="2.8"/>
<rect x="301.50" y="54.80" width="178.90" height="256.70" fill="none" stroke="#000" stroke-width="2.8"/>
<line x1="376.10" y1="311.50" x2="376.10" y2="305.90" stroke="#000" stroke-width="2.8"/>
<line x1="450.70" y1="311.50" x2="450.70" y2="305.90" stroke="#000" stroke-width="2.8"/>
<line x1="301.50" y1="132.00" x2="306.80" y2="132.00" stroke="#000" stroke-width="2.8"/>
<rect x="301.60" y="346.70" width="178.60" height="256.80" fill="none" stroke="#000" stroke-width="2.8"/>
<line x1="376.10" y1="603.50" x2="376.10" y2="597.90" stroke="#000" stroke-width="2.8"/>
<line x1="450.70" y1="603.50" x2="450.70" y2="597.90" stroke="#000" stroke-width="2.8"/>
<line x1="301.60" y1="423.90" x2="306.90" y2="423.90" stroke="#000" stroke-width="2.8"/>
<rect x="504.40" y="54.30" width="178.90" height="257.00" fill="none" stroke="#000" stroke-width="2.8"/>
<line x1="579.10" y1="311.30" x2="579.10" y2="305.70" stroke="#000" stroke-width="2.8"/>
<line x1="654.00" y1="311.30" x2="654.00" y2="305.70" stroke="#000" stroke-width="2.8"/>
<line x1="504.40" y1="116.60" x2="509.70" y2="116.60" stroke="#000" stroke-width="2.8"/>
<rect x="502.50" y="347.00" width="178.70" height="256.50" fill="none" stroke="#000" stroke-width="2.8"/>
<line x1="576.90" y1="603.50" x2="576.90" y2="597.90" stroke="#000" stroke-width="2.8"/>
<line x1="651.50" y1="603.50" x2="651.50" y2="597.90" stroke="#000" stroke-width="2.8"/>
<line x1="502.50" y1="436.70" x2="507.80" y2="436.70" stroke="#000" stroke-width="2.8"/>
<line x1="83.1" y1="53.6" x2="83.1" y2="254" stroke="#000" stroke-width="3.5"/>
<line x1="83.1" y1="294" x2="83.1" y2="313.6" stroke="#000" stroke-width="3.5"/>
<line x1="81.5" y1="311.8" x2="252" y2="311.8" stroke="#000" stroke-width="3.6"/>
<line x1="83.4" y1="345.3" x2="83.4" y2="526" stroke="#000" stroke-width="3.2"/>
<text x="68.30" y="46.00" font-size="20" font-weight="bold" font-style="normal" text-anchor="start" fill="#231f20" >a</text>
<text x="68.30" y="343.20" font-size="20" font-weight="bold" font-style="normal" text-anchor="start" fill="#231f20" >b</text>
<text x="287.50" y="44.50" font-size="20" font-weight="bold" font-style="normal" text-anchor="start" fill="#231f20" >c</text>
<text x="284.20" y="339.70" font-size="20" font-weight="bold" font-style="normal" text-anchor="start" fill="#231f20" >d</text>
<text x="493.00" y="44.50" font-size="20" font-weight="bold" font-style="normal" text-anchor="start" fill="#231f20" >e</text>
<text x="494.80" y="339.60" font-size="20" font-weight="bold" font-style="normal" text-anchor="start" fill="#231f20" >f</text>
<g transform="matrix(1 0 0 1.045 0 -2.061)">
<text x="150.10" y="45.80" font-size="22" font-weight="bold" font-style="normal" text-anchor="start" fill="#231f20" >MP</text>
</g>
<path transform="translate(185.20,45.60) scale(1.0000)" d="M3.8,0 L3.8,-10.2 L0,-8.0 L0,-11.2 L4.6,-15.8 L6.85,-15.8 L6.85,0 Z" fill="#231f20"/>
<g transform="matrix(1 0 0 1.045 0 -2.061)">
<text x="390.60" y="45.80" font-size="22" font-weight="bold" font-style="normal" text-anchor="middle" fill="#231f20" >MP2</text>
</g>
<g transform="matrix(1 0 0 1.045 0 -2.061)">
<text x="592.20" y="45.80" font-size="22" font-weight="bold" font-style="normal" text-anchor="middle" fill="#231f20" >M</text>
</g>
<g transform="matrix(1 0 0 1.04 0 -13.632)">
<text x="592.20" y="340.80" font-size="22" font-weight="bold" font-style="normal" text-anchor="middle" fill="#231f20" >P</text>
</g>
<text x="77.00" y="317.70" font-size="19.5" font-weight="normal" font-style="normal" text-anchor="end" fill="#231f20" >0</text>
<path transform="translate(70.10,139.70) scale(1.0000)" d="M3.7,0 L3.7,-11.1 L0,-8.9 L0,-10.7 L3.95,-13.85 L5.2,-13.85 L5.2,0 Z" fill="#231f20"/>
<text x="77.00" y="608.80" font-size="19.5" font-weight="normal" font-style="normal" text-anchor="end" fill="#231f20" >0</text>
<path transform="translate(68.90,430.80) scale(1.0000)" d="M3.7,0 L3.7,-11.1 L0,-8.9 L0,-10.7 L3.95,-13.85 L5.2,-13.85 L5.2,0 Z" fill="#231f20"/>
<text x="83.20" y="623.90" font-size="19.5" font-weight="normal" font-style="normal" text-anchor="middle" fill="#231f20" >0.0</text>
<text x="157.80" y="623.90" font-size="19.5" font-weight="normal" font-style="normal" text-anchor="middle" fill="#231f20" >0.5</text>
<path transform="translate(219.71,623.90) scale(1.0000)" d="M3.7,0 L3.7,-11.1 L0,-8.9 L0,-10.7 L3.95,-13.85 L5.2,-13.85 L5.2,0 Z" fill="#231f20"/>
<text x="229.29" y="623.90" font-size="19.5" font-weight="normal" fill="#231f20" >.0</text>
<text x="301.50" y="623.90" font-size="19.5" font-weight="normal" font-style="normal" text-anchor="middle" fill="#231f20" >0.0</text>
<text x="376.10" y="623.90" font-size="19.5" font-weight="normal" font-style="normal" text-anchor="middle" fill="#231f20" >0.5</text>
<path transform="translate(438.01,623.90) scale(1.0000)" d="M3.7,0 L3.7,-11.1 L0,-8.9 L0,-10.7 L3.95,-13.85 L5.2,-13.85 L5.2,0 Z" fill="#231f20"/>
<text x="447.59" y="623.90" font-size="19.5" font-weight="normal" fill="#231f20" >.0</text>
<text x="502.30" y="623.90" font-size="19.5" font-weight="normal" font-style="normal" text-anchor="middle" fill="#231f20" >0.0</text>
<text x="576.90" y="623.90" font-size="19.5" font-weight="normal" font-style="normal" text-anchor="middle" fill="#231f20" >0.5</text>
<path transform="translate(638.81,623.90) scale(1.0000)" d="M3.7,0 L3.7,-11.1 L0,-8.9 L0,-10.7 L3.95,-13.85 L5.2,-13.85 L5.2,0 Z" fill="#231f20"/>
<text x="648.39" y="623.90" font-size="19.5" font-weight="normal" fill="#231f20" >.0</text>
<g transform="matrix(1 0 0 1.04 0 -25.712)">
<text x="110.82" y="642.8" font-size="19.3" fill="#231f20">Normalized</text>
<text x="214.31" y="642.8" font-size="19.3" font-style="italic" fill="#231f20">E</text>
</g>
<text x="227.14" y="649.4" font-size="11.6" letter-spacing="-0.25" fill="#231f20">THz</text>
<g transform="matrix(1 0 0 1.04 0 -25.712)">
<text x="323.82" y="642.8" font-size="19.3" fill="#231f20">Normalized</text>
<text x="427.31" y="642.8" font-size="19.3" font-style="italic" fill="#231f20">E</text>
</g>
<text x="440.14" y="649.4" font-size="11.6" letter-spacing="-0.25" fill="#231f20">THz</text>
<g transform="matrix(1 0 0 1.04 0 -25.712)">
<text x="527.62" y="642.8" font-size="19.3" fill="#231f20">Normalized</text>
<text x="631.11" y="642.8" font-size="19.3" font-style="italic" fill="#231f20">E</text>
</g>
<text x="643.94" y="649.4" font-size="11.6" letter-spacing="-0.25" fill="#231f20">THz</text>
<text transform="translate(61.90,191.21) rotate(-90) scale(1,1.035)" x="0" y="0" font-size="19.3" text-anchor="middle" fill="#231f20">Normalized amplitude</text>
<text transform="translate(62.10,477.31) rotate(-90) scale(1,1.035)" x="0" y="0" font-size="19.3" text-anchor="middle" fill="#231f20">Normalized amplitude</text>
<rect x="98.1" y="70.1" width="15.4" height="15.1" fill="#9c5ca8"/>
<text x="120.30" y="85.60" font-size="19.5" font-weight="normal" font-style="normal" text-anchor="start" fill="#231f20" >92°</text>
<line x1="172" y1="246.9" x2="197" y2="246.9" stroke="#3f5fbf" stroke-width="3.6" stroke-dasharray="3.1 2.9" stroke-dashoffset="1.2"/>
<line x1="172" y1="269.6" x2="197" y2="269.6" stroke="#c94a4a" stroke-width="3.1" stroke-dasharray="3.1 2.9" stroke-dashoffset="1.2"/>
<line x1="172" y1="293" x2="197" y2="293" stroke="#a258b4" stroke-width="3.2"/>
<text x="199.50" y="255.10" font-size="19.5" font-weight="normal" font-style="normal" text-anchor="start" fill="#231f20" >L</text>
<text x="199.50" y="277.30" font-size="19.5" font-weight="normal" font-style="normal" text-anchor="start" fill="#231f20" >NL</text>
<text x="199.50" y="299.20" font-size="19.5" font-weight="normal" font-style="normal" text-anchor="start" fill="#231f20" >NL+L</text>
<path d="M92.81,368.10 L102.60,358.31 L112.38,368.10 L102.60,377.89Z" fill="#9c5ca8"/>
<text x="122.00" y="375.50" font-size="19.5" font-weight="normal" font-style="normal" text-anchor="start" fill="#231f20" >52°</text>
<circle cx="327.8" cy="78.6" r="8" fill="#9c5ca8"/>
<path transform="translate(344.77,85.40) scale(1.0000)" d="M3.7,0 L3.7,-11.1 L0,-8.9 L0,-10.7 L3.95,-13.85 L5.2,-13.85 L5.2,0 Z" fill="#231f20"/>
<text x="354.34" y="85.40" font-size="19.5" font-weight="normal" fill="#231f20" >2°</text>
<rect x="319" y="361.5" width="16.1" height="15.9" fill="#9c5ca8"/>
<text x="341.60" y="375.90" font-size="19.5" font-weight="normal" font-style="normal" text-anchor="start" fill="#231f20" >92°</text>
<circle cx="541.80" cy="76.90" r="7.67" fill="#4a67b6"/>
<path transform="translate(563.27,84.90) scale(1.0000)" d="M3.7,0 L3.7,-11.1 L0,-8.9 L0,-10.7 L3.95,-13.85 L5.2,-13.85 L5.2,0 Z" fill="#231f20"/>
<text x="572.84" y="84.90" font-size="19.5" font-weight="normal" fill="#231f20" >2°</text>
<path d="M532.11,98.10 L541.80,88.41 L551.49,98.10 L541.80,107.79Z" fill="#4a67b6"/>
<text x="562.00" y="106.10" font-size="19.5" font-weight="normal" font-style="normal" text-anchor="start" fill="#231f20" >52°</text>
<rect x="534.32" y="111.72" width="14.96" height="14.96" fill="#4a67b6"/>
<text x="562.00" y="127.20" font-size="19.5" font-weight="normal" font-style="normal" text-anchor="start" fill="#231f20" >92°</text>
<path d="M533.90,140.80 L537.85,134.10 L545.75,134.10 L549.70,140.80 L545.75,147.50 L537.85,147.50Z" fill="#4a67b6"/>
<path transform="translate(563.27,148.80) scale(1.0000)" d="M3.7,0 L3.7,-11.1 L0,-8.9 L0,-10.7 L3.95,-13.85 L5.2,-13.85 L5.2,0 Z" fill="#231f20"/>
<text x="572.84" y="148.80" font-size="19.5" font-weight="normal" fill="#231f20" >42°</text>
<line x1="614.3" y1="280.7" x2="645.9" y2="280.7" stroke="#4a67b6" stroke-width="3.1"/>
<text x="657.80" y="288.50" font-size="19.5" font-weight="normal" font-style="normal" text-anchor="start" fill="#231f20" >L</text>
<circle cx="534.10" cy="368.00" r="7.81" fill="#c95858"/>
<path transform="translate(556.07,375.00) scale(1.0000)" d="M3.7,0 L3.7,-11.1 L0,-8.9 L0,-10.7 L3.95,-13.85 L5.2,-13.85 L5.2,0 Z" fill="#231f20"/>
<text x="565.64" y="375.00" font-size="19.5" font-weight="normal" fill="#231f20" >2°</text>
<path d="M524.32,388.90 L534.10,379.11 L543.88,388.90 L534.10,398.69Z" fill="#c95858"/>
<text x="554.80" y="395.90" font-size="19.5" font-weight="normal" font-style="normal" text-anchor="start" fill="#231f20" >52°</text>
<rect x="526.62" y="402.32" width="14.96" height="14.96" fill="#c95858"/>
<text x="554.80" y="416.80" font-size="19.5" font-weight="normal" font-style="normal" text-anchor="start" fill="#231f20" >92°</text>
<path d="M526.04,430.80 L530.07,423.97 L538.13,423.97 L542.16,430.80 L538.13,437.63 L530.07,437.63Z" fill="#c95858"/>
<path transform="translate(556.07,437.80) scale(1.0000)" d="M3.7,0 L3.7,-11.1 L0,-8.9 L0,-10.7 L3.95,-13.85 L5.2,-13.85 L5.2,0 Z" fill="#231f20"/>
<text x="565.64" y="437.80" font-size="19.5" font-weight="normal" fill="#231f20" >42°</text>
<line x1="610.1" y1="575.4" x2="641.3" y2="575.4" stroke="#c95858" stroke-width="3.1"/>
<text x="651.20" y="582.70" font-size="19.5" font-weight="normal" font-style="normal" text-anchor="start" fill="#231f20" >NL</text>
<line x1="136.20" y1="117.10" x2="165.80" y2="117.10" stroke="#9a9a9a" stroke-width="1.9"/>
<line x1="136.20" y1="115.85" x2="165.80" y2="115.85" stroke="#262626" stroke-width="1.3"/>
<line x1="166.33" y1="116.23" x2="179.53" y2="142.13" stroke="#9a9a9a" stroke-width="1.9"/>
<line x1="165.22" y1="116.80" x2="178.42" y2="142.70" stroke="#262626" stroke-width="1.3"/>
<line x1="179.53" y1="142.67" x2="166.33" y2="168.57" stroke="#9a9a9a" stroke-width="1.9"/>
<line x1="178.42" y1="142.10" x2="165.22" y2="168.00" stroke="#262626" stroke-width="1.3"/>
<line x1="165.80" y1="168.90" x2="136.20" y2="168.90" stroke="#9a9a9a" stroke-width="1.9"/>
<line x1="165.80" y1="167.65" x2="136.20" y2="167.65" stroke="#262626" stroke-width="1.3"/>
<line x1="136.73" y1="168.03" x2="123.53" y2="142.13" stroke="#9a9a9a" stroke-width="1.9"/>
<line x1="135.62" y1="168.60" x2="122.42" y2="142.70" stroke="#262626" stroke-width="1.3"/>
<line x1="123.53" y1="142.67" x2="136.73" y2="116.77" stroke="#9a9a9a" stroke-width="1.9"/>
<line x1="122.42" y1="142.10" x2="135.62" y2="116.20" stroke="#262626" stroke-width="1.3"/>
<circle cx="136.20" cy="116.50" r="6.5" fill="url(#gB)"/>
<circle cx="165.80" cy="116.50" r="6.5" fill="url(#gR)"/>
<circle cx="179.00" cy="142.40" r="6.5" fill="url(#gR)"/>
<circle cx="165.80" cy="168.30" r="6.5" fill="url(#gR)"/>
<circle cx="136.20" cy="168.30" r="6.5" fill="url(#gB)"/>
<circle cx="123.00" cy="142.40" r="6.5" fill="url(#gB)"/>
<g filter="url(#blur3)" opacity="1"><path d="M94.5,143.4 L115,132.5 L119,137 L119,150 L115,154.5 Z" fill="#f7a028"/></g>
<g filter="url(#blur2)" opacity="0.6"><path d="M116,139.4 L151,140 L151,147.2 L116,147.8 Z" fill="#f7a838"/></g>
<path d="M150.7,145.1 L150.7,108" stroke="#1c1c1c" stroke-width="3.0" fill="none"/>
<path d="M150.7,91.5 L145.7,111.5 L155.7,111.5 Z" fill="#1c1c1c"/>
<path d="M152.2,143.6 L112,143.6" stroke="#1c1c1c" stroke-width="3.3" fill="none"/>
<path d="M97.2,143.4 L115.2,138.6 L115.2,148.2 Z" fill="#1c1c1c"/>
<text x="157.00" y="100.00" font-size="19.5" font-weight="normal" font-style="italic" text-anchor="start" fill="#231f20" >a</text>
<text x="107.80" y="132.50" font-size="19.5" font-weight="normal" font-style="italic" text-anchor="start" fill="#231f20" >b</text>
<text x="99.1" y="177.6" font-size="19.5" font-weight="bold" font-style="italic" fill="#f28c1e">E</text>
<text x="112.8" y="184.1" font-size="11.2" font-weight="bold" fill="#f28c1e">THz</text>
<line x1="348.00" y1="115.80" x2="377.60" y2="115.80" stroke="#9a9a9a" stroke-width="1.9"/>
<line x1="348.00" y1="114.55" x2="377.60" y2="114.55" stroke="#262626" stroke-width="1.3"/>
<line x1="378.13" y1="114.93" x2="391.33" y2="140.83" stroke="#9a9a9a" stroke-width="1.9"/>
<line x1="377.02" y1="115.50" x2="390.22" y2="141.40" stroke="#262626" stroke-width="1.3"/>
<line x1="391.33" y1="141.37" x2="378.13" y2="167.27" stroke="#9a9a9a" stroke-width="1.9"/>
<line x1="390.22" y1="140.80" x2="377.02" y2="166.70" stroke="#262626" stroke-width="1.3"/>
<line x1="377.60" y1="167.60" x2="348.00" y2="167.60" stroke="#9a9a9a" stroke-width="1.9"/>
<line x1="377.60" y1="166.35" x2="348.00" y2="166.35" stroke="#262626" stroke-width="1.3"/>
<line x1="348.53" y1="166.73" x2="335.33" y2="140.83" stroke="#9a9a9a" stroke-width="1.9"/>
<line x1="347.42" y1="167.30" x2="334.22" y2="141.40" stroke="#262626" stroke-width="1.3"/>
<line x1="335.33" y1="141.37" x2="348.53" y2="115.47" stroke="#9a9a9a" stroke-width="1.9"/>
<line x1="334.22" y1="140.80" x2="347.42" y2="114.90" stroke="#262626" stroke-width="1.3"/>
<circle cx="348.00" cy="115.20" r="6.5" fill="url(#gB)"/>
<circle cx="377.60" cy="115.20" r="6.5" fill="url(#gR)"/>
<circle cx="390.80" cy="141.10" r="6.5" fill="url(#gR)"/>
<circle cx="377.60" cy="167.00" r="6.5" fill="url(#gR)"/>
<circle cx="348.00" cy="167.00" r="6.5" fill="url(#gB)"/>
<circle cx="334.80" cy="141.10" r="6.5" fill="url(#gB)"/>
<g filter="url(#blur2)" opacity="0.92"><path d="M351.00,97.50 L344.36,117.25 L351.22,115.84 L356.77,142.71 L363.63,141.29 L358.07,114.42 L364.93,113.00Z" fill="#f5a431"/></g>
<g filter="url(#blur2)" opacity="0.9"><path d="M109.60,392.40 L117.78,412.31 L122.34,406.24 L147.86,425.42 L151.94,419.98 L126.43,400.80 L131.00,394.73Z" fill="#f5a431"/></g>
<line x1="135.80" y1="405.10" x2="165.40" y2="405.10" stroke="#9a9a9a" stroke-width="1.9"/>
<line x1="135.80" y1="403.85" x2="165.40" y2="403.85" stroke="#262626" stroke-width="1.3"/>
<line x1="165.93" y1="404.23" x2="179.13" y2="430.13" stroke="#9a9a9a" stroke-width="1.9"/>
<line x1="164.82" y1="404.80" x2="178.02" y2="430.70" stroke="#262626" stroke-width="1.3"/>
<line x1="179.13" y1="430.67" x2="165.93" y2="456.57" stroke="#9a9a9a" stroke-width="1.9"/>
<line x1="178.02" y1="430.10" x2="164.82" y2="456.00" stroke="#262626" stroke-width="1.3"/>
<line x1="165.40" y1="456.90" x2="135.80" y2="456.90" stroke="#9a9a9a" stroke-width="1.9"/>
<line x1="165.40" y1="455.65" x2="135.80" y2="455.65" stroke="#262626" stroke-width="1.3"/>
<line x1="136.33" y1="456.03" x2="123.13" y2="430.13" stroke="#9a9a9a" stroke-width="1.9"/>
<line x1="135.22" y1="456.60" x2="122.02" y2="430.70" stroke="#262626" stroke-width="1.3"/>
<line x1="123.13" y1="430.67" x2="136.33" y2="404.77" stroke="#9a9a9a" stroke-width="1.9"/>
<line x1="122.02" y1="430.10" x2="135.22" y2="404.20" stroke="#262626" stroke-width="1.3"/>
<circle cx="135.80" cy="404.50" r="6.5" fill="url(#gB)"/>
<circle cx="165.40" cy="404.50" r="6.5" fill="url(#gR)"/>
<circle cx="178.60" cy="430.40" r="6.5" fill="url(#gR)"/>
<circle cx="165.40" cy="456.30" r="6.5" fill="url(#gR)"/>
<circle cx="135.80" cy="456.30" r="6.5" fill="url(#gB)"/>
<circle cx="122.60" cy="430.40" r="6.5" fill="url(#gB)"/>
<line x1="346.90" y1="404.70" x2="376.50" y2="404.70" stroke="#9a9a9a" stroke-width="1.9"/>
<line x1="346.90" y1="403.45" x2="376.50" y2="403.45" stroke="#262626" stroke-width="1.3"/>
<line x1="377.03" y1="403.83" x2="390.23" y2="429.73" stroke="#9a9a9a" stroke-width="1.9"/>
<line x1="375.92" y1="404.40" x2="389.12" y2="430.30" stroke="#262626" stroke-width="1.3"/>
<line x1="390.23" y1="430.27" x2="377.03" y2="456.17" stroke="#9a9a9a" stroke-width="1.9"/>
<line x1="389.12" y1="429.70" x2="375.92" y2="455.60" stroke="#262626" stroke-width="1.3"/>
<line x1="376.50" y1="456.50" x2="346.90" y2="456.50" stroke="#9a9a9a" stroke-width="1.9"/>
<line x1="376.50" y1="455.25" x2="346.90" y2="455.25" stroke="#262626" stroke-width="1.3"/>
<line x1="347.43" y1="455.63" x2="334.23" y2="429.73" stroke="#9a9a9a" stroke-width="1.9"/>
<line x1="346.32" y1="456.20" x2="333.12" y2="430.30" stroke="#262626" stroke-width="1.3"/>
<line x1="334.23" y1="430.27" x2="347.43" y2="404.37" stroke="#9a9a9a" stroke-width="1.9"/>
<line x1="333.12" y1="429.70" x2="346.32" y2="403.80" stroke="#262626" stroke-width="1.3"/>
<circle cx="346.90" cy="404.10" r="6.5" fill="url(#gB)"/>
<circle cx="376.50" cy="404.10" r="6.5" fill="url(#gR)"/>
<circle cx="389.70" cy="430.00" r="6.5" fill="url(#gR)"/>
<circle cx="376.50" cy="455.90" r="6.5" fill="url(#gR)"/>
<circle cx="346.90" cy="455.90" r="6.5" fill="url(#gB)"/>
<circle cx="333.70" cy="430.00" r="6.5" fill="url(#gB)"/>
<g filter="url(#blur2)" opacity="0.82"><path d="M309.30,432.00 L329.41,442.81 L329.33,435.21 L360.93,434.90 L360.87,428.10 L329.27,428.41 L329.19,420.81Z" fill="#f5a431"/></g>
</svg>
</body></html>
